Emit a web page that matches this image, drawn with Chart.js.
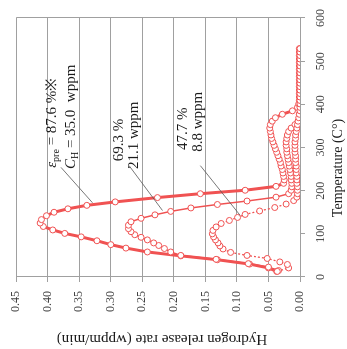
<!DOCTYPE html>
<html>
<head>
<meta charset="utf-8">
<title>Hydrogen release rate</title>
<script src="https://cdn.jsdelivr.net/npm/chart.js"></script>
<style>
body{margin:0;background:#fff;overflow:hidden;}
/* the original figure is printed turned a quarter turn to the left */
#wrap{position:absolute;left:0;top:0;width:349px;height:347px;transform-origin:0 0;transform:translate(0,349px) rotate(-90deg);}
</style>
</head>
<body>
<div id="wrap"><canvas id="myChart" width="349" height="347"></canvas></div>
<script>
// eps_pre = 87.6 %, C_H = 35.0 wppm
var temps1 = [13,21,30,40,49,58,67,75,84,93,101,109,117,125,133,142,150,158,166,174,184,193,201,210,217,
  225,233,241,249,257,265,273,281,289,297,305,313,321,329,337,345,353,361,369,377,385,393,401,409,417,425,433,441,449,457,465,473,481,489,497,505,513,521,529];
var rates1 = [0.037,0.050,0.080,0.131,0.189,0.242,0.276,0.300,0.322,0.347,0.373,0.392,0.407,0.412,0.410,0.402,0.390,0.368,0.338,0.293,0.226,0.158,0.087,0.038,0.026,
  0.025,0.026,0.027,0.028,0.030,0.031,0.033,0.035,0.037,0.039,0.041,0.043,0.045,0.046,0.047,0.048,0.047,0.044,0.039,0.028,0.012,0.004,0.002,0.001,0.001,0.001,0.001,0.001,0.001,0.001,0.001,0.001,0.001,0.001,0.001,0.001,0.001,0.001,0.001];

// 69.3 %, 21.1 wppm
var temps2 = [15,23,31,41,50,58,66,73,79,86,92,98,105,112,120,128,136,144,152,160,168,176,185,193,201,
  209,217,225,233,241,249,257,265,273,281,289,297,305,313,321,329,337,345,353,361,369,377];
var rates2 = [0.034,0.050,0.082,0.133,0.189,0.205,0.215,0.224,0.232,0.242,0.252,0.262,0.268,0.272,0.272,0.268,0.252,0.230,0.205,0.173,0.131,0.084,0.038,0.018,0.014,
  0.013,0.013,0.014,0.014,0.015,0.016,0.017,0.018,0.019,0.020,0.021,0.021,0.022,0.022,0.021,0.020,0.018,0.014,0.008,0.003,0.001,0.001];

// 47.7 %, 8.8 wppm
var temps3 = [13,21,29,35,43,50,57,65,72,79,86,93,100,108,116,124,131,138,145,153,161,169,177,185,
  193,201,209,217,225,233,241,249,257,265,273,281,289,297,305,313,321,329,337,345,353,361,369,377,385,393,401,409,417,425,433,441,449,457,465,473,481,489,497,505,513,521,529];
var rates3 = [0.036,0.018,0.020,0.032,0.052,0.084,0.110,0.122,0.127,0.130,0.134,0.137,0.139,0.138,0.133,0.125,0.112,0.099,0.087,0.064,0.040,0.022,0.010,0.005,
  0.004,0.004,0.004,0.005,0.005,0.005,0.006,0.006,0.006,0.007,0.007,0.007,0.008,0.008,0.008,0.008,0.007,0.007,0.006,0.005,0.004,0.003,0.002,0.001,0,0,0,0,0,0,0,0,0,0,0,0,0,0,0,0,0,0,0];

var xTitle = 'Temperature (C°)';
var yTitle = 'Hydrogen release rate (wppm/min)';

// annotation text, anchored in data units (left edge, middle)
var noteLines = [
  {t: 253, r: 0.393, parts: [['ε','i'],['pre','s'],[' = 87.6 %※','']]},
  {t: 250, r: 0.363, parts: [['C','i'],['H','s'],[' = 35.0  wppm','']]},
  {t: 268, r: 0.287, parts: [['69.3 %','']]},
  {t: 250, r: 0.263, parts: [['21.1 wppm','']]},
  {t: 294, r: 0.185, parts: [['47.7 %','']]},
  {t: 290, r: 0.161, parts: [['8.8 wppm','']]}
];
// leader lines: [t1, r1, t2, r2]
var leaders = [
  [254, 0.379, 172, 0.329],
  [258, 0.271, 154, 0.218],
  [258, 0.158, 143, 0.095]
];

var red = '#f05252';
var gridCol = '#a0a0a0';
var serif = "'Liberation Serif', 'DejaVu Serif', serif";

function pts(t, r) {
  return t.map(function(v, i) { return {x: v, y: r[i]}; });
}

function drawParts(ctx, x, y, parts) {
  ctx.textBaseline = 'middle';
  ctx.textAlign = 'left';
  for (var i = 0; i < parts.length; i++) {
    var p = parts[i];
    if (p[1] === 'i') { ctx.font = 'italic 15px ' + serif; ctx.fillText(p[0], x, y); }
    else if (p[1] === 's') { ctx.font = '10px ' + serif; ctx.fillText(p[0], x, y + 4); }
    else { ctx.font = '15px ' + serif; ctx.fillText(p[0], x, y); }
    x += ctx.measureText(p[0]).width;
  }
}

var notes = {
  id: 'notes',
  afterDatasetsDraw: function(chart) {
    var ctx = chart.ctx, xs = chart.scales.x, ys = chart.scales.y;
    ctx.save();
    ctx.strokeStyle = '#555';
    ctx.lineWidth = 0.8;
    leaders.forEach(function(l) {
      ctx.beginPath();
      ctx.moveTo(xs.getPixelForValue(l[0]), ys.getPixelForValue(l[1]));
      ctx.lineTo(xs.getPixelForValue(l[2]), ys.getPixelForValue(l[3]));
      ctx.stroke();
    });
    ctx.fillStyle = '#1a1a1a';
    noteLines.forEach(function(n) {
      drawParts(ctx, xs.getPixelForValue(n.t), ys.getPixelForValue(n.r), n.parts);
    });
    // axis titles
    ctx.font = '14px ' + serif;
    ctx.textAlign = 'center';
    ctx.textBaseline = 'middle';
    ctx.fillText(xTitle, 181, 338);
    ctx.save();
    ctx.translate(10, 162);
    ctx.rotate(-Math.PI / 2);
    ctx.font = '15px ' + serif;
    ctx.fillText(yTitle, 0, 0);
    ctx.restore();
    ctx.restore();
  }
};

var common = {
  showLine: true,
  borderColor: red,
  pointBackgroundColor: '#fff',
  pointBorderColor: red,
  pointBorderWidth: 1,
  pointRadius: 3,
  pointHoverRadius: 3
};

new Chart(document.getElementById('myChart'), {
  type: 'scatter',
  data: {
    datasets: [
      Object.assign({label: '47.7 %', data: pts(temps3, rates3), borderWidth: 1.3, borderDash: [2, 2]}, common),
      Object.assign({label: '69.3 %', data: pts(temps2, rates2), borderWidth: 1.5}, common),
      Object.assign({label: '87.6 %', data: pts(temps1, rates1), borderWidth: 3}, common)
    ]
  },
  options: {
    responsive: false,
    animation: false,
    layout: {padding: {top: 14, right: 8, left: 0, bottom: 0}},
    plugins: {legend: {display: false}, tooltip: {enabled: false}},
    scales: {
      x: {
        type: 'linear', min: 0, max: 600,
        afterFit: function(s) { s.height = 47; },
        ticks: {stepSize: 100, maxRotation: 0, padding: 9, color: '#444', font: {family: serif, size: 12}},
        grid: {
          color: function(c) { return c.tick && c.tick.value === 600 ? gridCol : 'transparent'; },
          tickColor: gridCol, tickLength: 5
        },
        border: {color: gridCol}
      },
      y: {
        min: 0, max: 0.45,
        afterFit: function(s) { s.width = 72; },
        ticks: {stepSize: 0.05, padding: 9, color: '#444', font: {family: serif, size: 12},
          callback: function(v) { return v.toFixed(2); }},
        grid: {color: gridCol, tickColor: gridCol, tickLength: 5},
        border: {color: gridCol}
      }
    }
  },
  plugins: [notes]
});
</script>
</body>
</html>
